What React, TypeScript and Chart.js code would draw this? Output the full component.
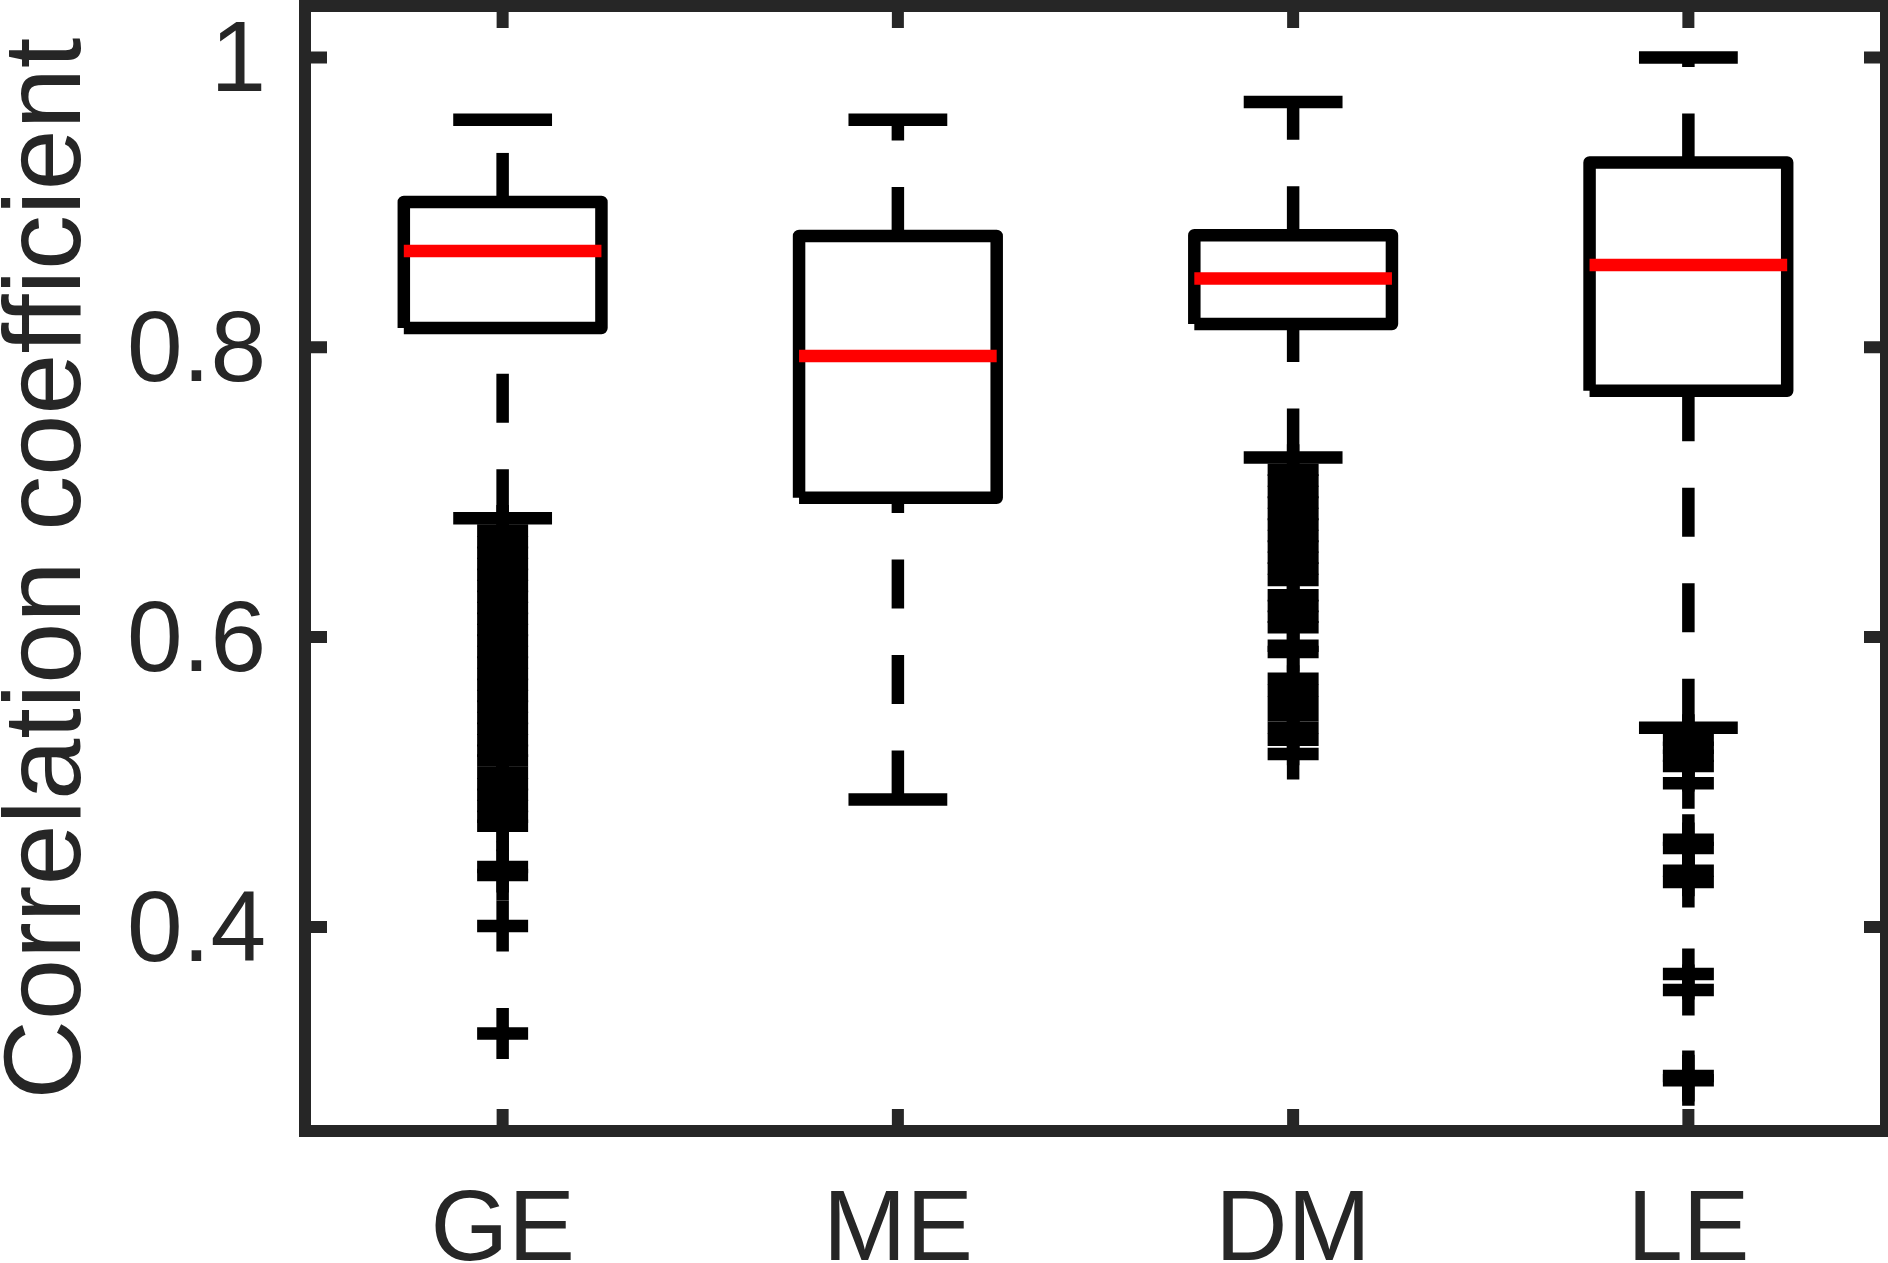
import React, { useEffect, useRef } from 'react';
import { Chart, registerables } from 'chart.js';

Chart.register(...registerables);

// ---------- data ----------
const categories = ['GE', 'ME', 'DM', 'LE'];
const lowerWhisker = [0.682, 0.488, 0.724, 0.5375];
const quartile1 = [0.8133, 0.6962, 0.816, 0.770];
const medians = [0.8665, 0.794, 0.8474, 0.8568];
const quartile3 = [0.9003, 0.8768, 0.8773, 0.9275];
const upperWhisker = [0.957, 0.957, 0.9692, 1.0];

const outliersGE = [
  0.6736, 0.6655, 0.6583, 0.6504, 0.6431, 0.6352, 0.6279, 0.6201, 0.6127, 0.6049,
  0.5976, 0.5898, 0.5824, 0.5746, 0.5672, 0.5593, 0.5521, 0.5442, 0.5368, 0.5289,
  0.5216, 0.5148, 0.5064, 0.4985, 0.4912, 0.4834, 0.4761, 0.4698, 0.4414, 0.4359,
  0.4007, 0.3264,
];
const outliersME: number[] = [];
const outliersDM = [
  0.7155, 0.7081, 0.7002, 0.6929, 0.685, 0.6777, 0.6698, 0.6625, 0.6547, 0.6473,
  0.6395, 0.6289, 0.6215, 0.6141, 0.6068, 0.594, 0.5898, 0.5712, 0.563, 0.5547,
  0.546, 0.5374, 0.5291, 0.5194,
];
const outliersLE = [
  0.5291, 0.5236, 0.5181, 0.5111, 0.4991, 0.4601, 0.4545, 0.4387, 0.4311, 0.3675,
  0.3565, 0.2971, 0.2943,
];

const yTickValues = [0.4, 0.6, 0.8, 1];
const yTickLabels = ['0.4', '0.6', '0.8', '1'];
const yAxisTitle = 'Correlation coefficient';
const yMin = 0.2592;
const yMax = 1.0355;

// ---------- style ----------
const FONT = '"Liberation Sans", Arial, Helvetica, sans-serif';
const AXIS_COLOR = '#262626';
const BOX_HALF = 0.25;
const CAP_HALF = 0.125;
const LW = 12.5;

const lineBase = {
  showLine: true,
  pointRadius: 0,
  pointHoverRadius: 0,
  borderWidth: LW,
  borderCapStyle: 'butt',
  fill: false,
  tension: 0,
  clip: false,
};

function buildDatasets() {
  const ds: any[] = [];
  const outlierSets = [outliersGE, outliersME, outliersDM, outliersLE];
  categories.forEach((name, i) => {
    const x = i + 1;
    ds.push({
      ...lineBase,
      label: name + ' median',
      data: [
        { x: x - BOX_HALF, y: medians[i] },
        { x: x + BOX_HALF, y: medians[i] },
      ],
      borderColor: '#ff0000',
      order: 0,
    });
    ds.push({
      ...lineBase,
      label: name + ' box',
      data: [
        { x: x - BOX_HALF, y: quartile1[i] },
        { x: x - BOX_HALF, y: quartile3[i] },
        { x: x + BOX_HALF, y: quartile3[i] },
        { x: x + BOX_HALF, y: quartile1[i] },
        { x: x - BOX_HALF, y: quartile1[i] },
      ],
      borderColor: '#000000',
      borderJoinStyle: 'round',
      order: 1,
    });
    ds.push({
      ...lineBase,
      label: name + ' upper whisker',
      data: [
        { x, y: quartile3[i] },
        { x, y: upperWhisker[i] },
      ],
      borderColor: '#000000',
      borderDash: [49, 46.5],
      order: 2,
    });
    ds.push({
      ...lineBase,
      label: name + ' lower whisker',
      data: [
        { x, y: lowerWhisker[i] },
        { x, y: quartile1[i] },
      ],
      borderColor: '#000000',
      borderDash: [49, 46.5],
      order: 2,
    });
    ds.push({
      ...lineBase,
      label: name + ' upper cap',
      data: [
        { x: x - CAP_HALF, y: upperWhisker[i] },
        { x: x + CAP_HALF, y: upperWhisker[i] },
      ],
      borderColor: '#000000',
      order: 2,
    });
    ds.push({
      ...lineBase,
      label: name + ' lower cap',
      data: [
        { x: x - CAP_HALF, y: lowerWhisker[i] },
        { x: x + CAP_HALF, y: lowerWhisker[i] },
      ],
      borderColor: '#000000',
      order: 2,
    });
    ds.push({
      label: name + ' outliers',
      data: outlierSets[i].map((v) => ({ x, y: v })),
      showLine: false,
      pointStyle: 'cross',
      pointRadius: 25.5,
      pointHoverRadius: 25.5,
      pointBorderWidth: LW,
      borderWidth: LW,
      pointBorderColor: '#000000',
      borderColor: '#000000',
      pointBackgroundColor: 'rgba(0,0,0,0)',
      clip: false,
      order: 3,
    });
  });
  return ds;
}

const matlabFrame = {
  id: 'matlabFrame',
  afterDatasetsDraw(chart: any) {
    const { ctx, chartArea } = chart;
    const { left, right, top, bottom } = chartArea;
    const xs = chart.scales.x;
    const ys = chart.scales.y;
    const len = 22;
    ctx.save();
    ctx.strokeStyle = AXIS_COLOR;
    ctx.lineWidth = 12;
    ctx.lineCap = 'butt';
    ctx.setLineDash([]);
    ctx.beginPath();
    ys.ticks.forEach((t: any) => {
      const py = ys.getPixelForValue(t.value);
      ctx.moveTo(left, py);
      ctx.lineTo(left + len, py);
      ctx.moveTo(right - len, py);
      ctx.lineTo(right, py);
    });
    xs.ticks.forEach((t: any) => {
      const px = xs.getPixelForValue(t.value);
      ctx.moveTo(px, top);
      ctx.lineTo(px, top + len);
      ctx.moveTo(px, bottom - len);
      ctx.lineTo(px, bottom);
    });
    ctx.stroke();
    ctx.lineJoin = 'miter';
    ctx.strokeRect(left, top, right - left, bottom - top);
    ctx.restore();
  },
};

function zeroPadding(s: any) {
  s.paddingTop = 0;
  s.paddingBottom = 0;
  s.paddingLeft = 0;
  s.paddingRight = 0;
}

export default function App() {
  const canvasRef = useRef<HTMLCanvasElement | null>(null);

  useEffect(() => {
    const canvas = canvasRef.current;
    if (!canvas) return;
    const chart = new Chart(canvas, {
      type: 'scatter',
      data: { datasets: buildDatasets() },
      plugins: [matlabFrame],
      options: {
        animation: false,
        responsive: false,
        events: [],
        layout: {
          autoPadding: false,
          padding: { top: 6, right: 2, bottom: 0, left: 0 },
        },
        plugins: {
          legend: { display: false },
          tooltip: { enabled: false },
        },
        scales: {
          x: {
            type: 'linear',
            position: 'bottom',
            min: 0.5,
            max: 4.5,
            afterBuildTicks: (s: any) => {
              s.ticks = categories.map((_, i) => ({ value: i + 1 }));
            },
            afterFit: (s: any) => {
              s.height = 132;
              zeroPadding(s);
            },
            grid: { display: false, drawTicks: false, tickLength: 0 },
            border: { display: false },
            ticks: {
              autoSkip: false,
              maxRotation: 0,
              minRotation: 0,
              padding: 41,
              color: AXIS_COLOR,
              font: { family: FONT, size: 100 },
              callback: (_v: any, i: number) => categories[i],
            },
          },
          y: {
            type: 'linear',
            position: 'left',
            min: yMin,
            max: yMax,
            afterBuildTicks: (s: any) => {
              s.ticks = yTickValues.map((v) => ({ value: v }));
            },
            afterFit: (s: any) => {
              s.width = 305;
              zeroPadding(s);
            },
            grid: { display: false, drawTicks: false, tickLength: 0 },
            border: { display: false },
            ticks: {
              padding: 39,
              labelOffset: 6,
              color: AXIS_COLOR,
              font: { family: FONT, size: 100 },
              callback: (_v: any, i: number) => yTickLabels[i],
            },
            title: {
              display: true,
              text: yAxisTitle,
              color: AXIS_COLOR,
              padding: { top: 7, bottom: 0 },
              font: { family: FONT, size: 110, lineHeight: 0.78 },
            },
          },
        },
      } as any,
    });
    return () => chart.destroy();
  }, []);

  return (
    <div
      style={{
        position: 'fixed',
        left: 0,
        top: 0,
        width: 1888,
        height: 1263,
        background: '#ffffff',
      }}
    >
      <canvas ref={canvasRef} width={1888} height={1263} style={{ display: 'block' }} />
    </div>
  );
}
